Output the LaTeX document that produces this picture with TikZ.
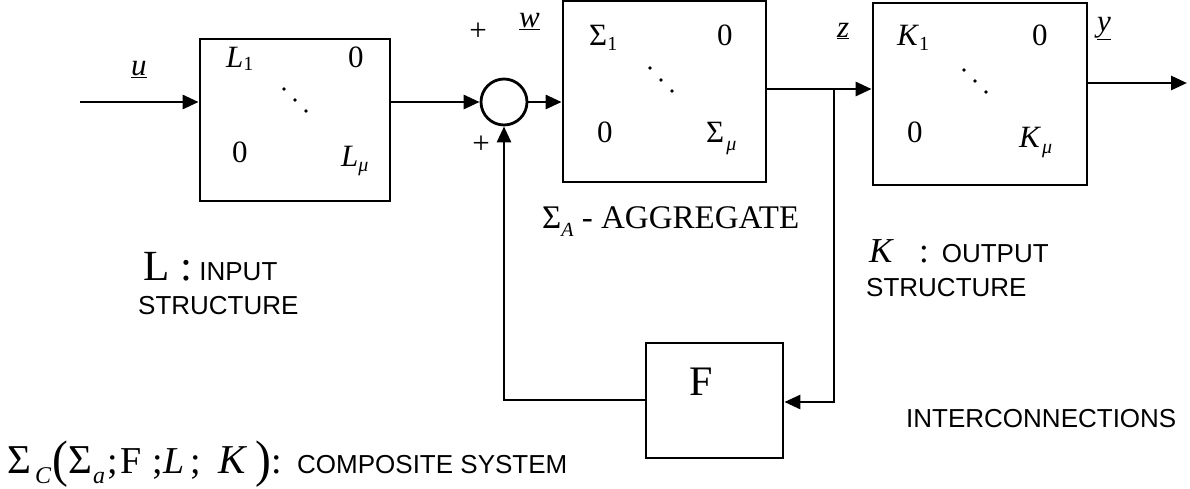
\documentclass[tikz,border=0pt]{standalone}
\usepackage{fontspec}
\setmainfont{Liberation Serif}
\newfontfamily\lsans{Liberation Sans}
\usetikzlibrary{arrows.meta}
\newcommand{\fs}[1]{\fontsize{#1}{#1}\selectfont}
\newcommand{\lowsub}[3]{\raisebox{-#1pt}{\fs{#2}#3}}
\newcommand{\pc}[2]{\makebox[#1pt][l]{#2}}
\begin{document}
\begin{tikzpicture}[x=1pt,y=-1pt,
  arr/.style={line width=2.8pt,-{Triangle[length=16pt,width=14pt]}},
  blk/.style={draw,line width=2.8pt,rectangle,inner sep=0pt},
  txt/.style={inner sep=0pt,anchor=base west},
  sanslab/.style={txt,font=\lsans\fs{26}},
  ent/.style={txt,font=\fs{31}},
  ddot/.style={circle,fill,inner sep=0pt,minimum size=3.8pt}]
\useasboundingbox (0,0) rectangle (1190,488);
% blocks
\node[blk,minimum width=190pt,minimum height=162pt] (Lbox) at (295,120) {};
\node[draw,circle,line width=2.8pt,minimum size=46pt,inner sep=0pt] (sum) at (504,102) {};
\node[blk,minimum width=203pt,minimum height=181pt] (Sbox) at (664.5,91.5) {};
\node[blk,minimum width=214pt,minimum height=182pt] (Kbox) at (980,94) {};
\node[blk,minimum width=137pt,minimum height=115pt] (Fbox) at (714.5,400.5) {};
% connectors
\coordinate (uin) at (80,102);
\draw[arr] (uin) -- (uin -| Lbox.west);
\draw[arr] (Lbox.east |- sum.west) -- (sum.west);
\draw[arr] (sum.east) -- (sum.east -| Sbox.west);
\coordinate (zj) at (834,89);
\draw[arr] (zj -| Sbox.east) -- (zj -| Kbox.west);
\coordinate (fbr) at (834,402);
\draw[arr] (zj) -- (fbr) -- (fbr -| Fbox.east);
\coordinate (fbl) at (504,400);
\draw[arr] (fbl -| Fbox.west) -- (fbl) -- (sum.south);
\coordinate (yout) at (1187,83);
\draw[arr] (yout -| Kbox.east) -- (yout);
% signal labels
\node[txt] (ulab) at (131,75) {\fs{31}\underline{\textit{u}}};
\node[txt] (wlab) at (519,27) {\fs{31}\underline{\textit{w}}};
\node[txt] (zlab) at (837,37) {\fs{31}\underline{\textit{z}}};
\node[txt] (ylab) at (1097,31) {\fs{31}\underline{\textit{y}}};
\node[inner sep=0pt] (p1) at (478,32) {\fs{31}+};
\node[inner sep=0pt] (p2) at (481,145) {\fs{31}+};
% L block entries
\node[ent] (l11) at (226,67) {\textit{L}\lowsub{3}{20}{1}};
\node[ent] (l12) at (348,67) {0};
\node[ent] (l21) at (232,162) {0};
\node[ent] (l22) at (341,166) {\textit{L}\lowsub{5}{20}{\textit{μ}}};
\node[ddot] (ld1) at (284,89) {};
\node[ddot] (ld2) at (295,100) {};
\node[ddot] (ld3) at (306,111) {};
% Sigma block entries
\node[ent] (s11) at (589,45) {Σ\lowsub{5}{20}{1}};
\node[ent] (s12) at (717,45) {0};
\node[ent] (s21) at (597,142) {0};
\node[ent] (s22) at (706,142) {Σ\hspace{2pt}\lowsub{8}{20}{\textit{μ}}};
\node[ddot] (sd1) at (650,68) {};
\node[ddot] (sd2) at (661,80) {};
\node[ddot] (sd3) at (672,91) {};
% K block entries
\node[ent] (k11) at (897,45) {\textit{K}\lowsub{5}{20}{1}};
\node[ent] (k12) at (1032,45) {0};
\node[ent] (k21) at (907,142) {0};
\node[ent] (k22) at (1019,147) {\textit{K}\hspace{1pt}\lowsub{6}{20}{\textit{μ}}};
\node[ddot] (kd1) at (964,70) {};
\node[ddot] (kd2) at (975,81) {};
\node[ddot] (kd3) at (986,92) {};
% F block
\node[txt] (ftxt) at (689,395) {\fs{42}F};
% captions
\node[txt] (agg) at (542,228) {\fs{33}Σ\lowsub{8}{20}{\textit{A}} - AGGREGATE};
\node[txt] (lcap) at (143,280) {\fs{43}L :\lsans\fs{26} INPUT};
\node[sanslab] (lcap2) at (138,314) {STRUCTURE};
\node[txt] (kcap) at (869,262) {\fs{35}\textit{K}\hspace{25pt}:\hspace{13pt}\lsans\fs{26}OUTPUT};
\node[sanslab] (kcap2) at (866,296) {STRUCTURE};
\node[sanslab] (icap) at (906,427) {INTERCONNECTIONS};
\node[txt] (comp) at (7,473) {\fs{38}%
\pc{28}{\fs{41}Σ}\pc{17}{\lowsub{10}{24}{\textit{C}}}%
\pc{16}{\raisebox{-3.5pt}{\scalebox{1.25}[1.35]{(}}}%
\pc{25}{\fs{41}Σ}\pc{14}{\lowsub{10}{24}{\textit{a}}}\pc{13}{;}%
\pc{32}{F}\pc{11}{;}\pc{27}{\textit{L}}\pc{28}{;}%
\pc{37}{{\fs{41}\textit{K}}}%
\pc{16}{\raisebox{-3.5pt}{\scalebox{1.25}[1.35]{)}}}%
\pc{26}{:}{\lsans\fs{26}COMPOSITE SYSTEM}};
\end{tikzpicture}
\end{document}
